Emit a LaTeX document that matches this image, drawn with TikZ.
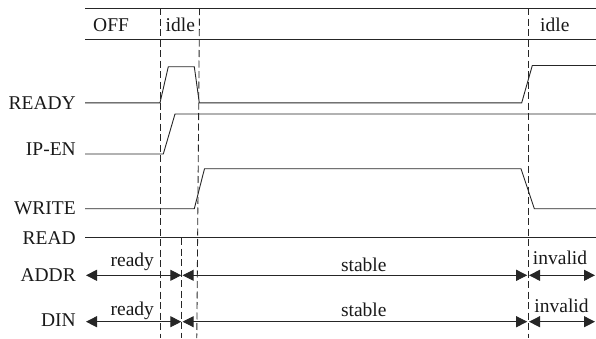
\documentclass[tikz,border=0pt]{standalone}
\usepackage{fontspec}
\setmainfont{Liberation Serif}
\usetikzlibrary{arrows.meta}
\begin{document}
\begin{tikzpicture}[x=1pt,y=-1pt,
  signal/.style={draw=black!85, line width=0.9pt},
  guide/.style={draw=black!85, line width=0.85pt, dash pattern=on 7pt off 3.5pt},
  phasespan/.style={draw=black!85, line width=0.9pt, {Triangle[length=11pt,width=11pt]}-{Triangle[length=11pt,width=11pt]}},
  lbl/.style={inner sep=0pt, text=black!90, font=\fontsize{19.5}{20}\selectfont},
  signame/.style={lbl, anchor=base east},
  phasenote/.style={lbl, anchor=base}]
\useasboundingbox (0,0) rectangle (596,338);

% state bar
\draw[signal] (85,8) -- (596,8);
\draw[signal] (85,39) -- (596,39);
\node[lbl, anchor=base west] (off) at (93,31.7) {OFF};
\node[lbl, anchor=base west] (idleA) at (165.5,31.7) {idle};
\node[lbl, anchor=base west] (idleB) at (540,31.7) {idle};

% phase boundaries
\coordinate (g1t) at (160,8);   \coordinate (g1b) at (160,338);
\coordinate (g2t) at (199.5,8); \coordinate (g2b) at (196.8,338);
\coordinate (g3t) at (181,238); \coordinate (g3b) at (181,338);
\coordinate (g4t) at (528,8);   \coordinate (g4b) at (528,338);
\draw[guide] (g1t) -- (g1b);
\draw[guide] (g2t) -- (g2b);
\draw[guide] (g3t) -- (g3b);
\draw[guide] (g4t) -- (g4b);

% signal names
\node[signame] (nready) at (76,109) {READY};
\node[signame] (nipen)  at (76,155) {IP-EN};
\node[signame] (nwrite) at (76,214) {WRITE};
\node[signame] (nread)  at (76,244) {READ};
\node[signame] (naddr)  at (76,281.5) {ADDR};
\node[signame] (ndin)   at (76,326.5) {DIN};

% READY
\coordinate (r0) at (85,102.8);
\coordinate (r1) at (160,102.8);
\coordinate (r2) at (168.3,66.7);
\coordinate (r3) at (194.3,66.7);
\coordinate (r4) at (199.3,102.8);
\coordinate (r5) at (521.7,102.8);
\coordinate (r6) at (532.3,65.5);
\coordinate (r7) at (596,65.5);
\draw[signal] (r0) -- (r1) -- (r2) -- (r3) -- (r4) -- (r5) -- (r6) -- (r7);

% IP-EN
\coordinate (e0) at (85,154);
\coordinate (e1) at (163.3,154);
\coordinate (e2) at (175,114);
\coordinate (e3) at (596,114);
\draw[signal] (e0) -- (e1) -- (e2) -- (e3);

% WRITE
\coordinate (w0) at (85,208.7);
\coordinate (w1) at (194.3,208.7);
\coordinate (w2) at (204.5,168.7);
\coordinate (w3) at (521,168.7);
\coordinate (w4) at (534.3,208.7);
\coordinate (w5) at (596,208.7);
\draw[signal] (w0) -- (w1) -- (w2) -- (w3) -- (w4) -- (w5);

% READ
\coordinate (d0) at (85,237.7);
\coordinate (d1) at (596,237.7);
\draw[signal] (d0) -- (d1);

% ADDR phases
\coordinate (a0) at (86,275.3);
\coordinate (a1) at (181.3,275.3);
\coordinate (a2) at (182.6,275.3);
\coordinate (a3) at (527.2,275.3);
\coordinate (a4) at (529,275.3);
\coordinate (a5) at (595,275.3);
\draw[phasespan] (a0) -- (a1);
\draw[phasespan] (a2) -- (a3);
\draw[phasespan] (a4) -- (a5);
\node[phasenote] (ar) at (132.3,266) {ready};
\node[phasenote] (as) at (363.8,271.5) {stable};
\node[phasenote] (ai) at (560,264.3) {invalid};

% DIN phases
\coordinate (b0) at (86,321.7);
\coordinate (b1) at (181.3,321.7);
\coordinate (b2) at (182.6,321.7);
\coordinate (b3) at (527.2,321.7);
\coordinate (b4) at (529,321.7);
\coordinate (b5) at (595,321.7);
\draw[phasespan] (b0) -- (b1);
\draw[phasespan] (b2) -- (b3);
\draw[phasespan] (b4) -- (b5);
\node[phasenote] (br) at (132.3,315.5) {ready};
\node[phasenote] (bs) at (363.8,316.5) {stable};
\node[phasenote] (bi) at (561.5,312.7) {invalid};
\end{tikzpicture}
\end{document}
